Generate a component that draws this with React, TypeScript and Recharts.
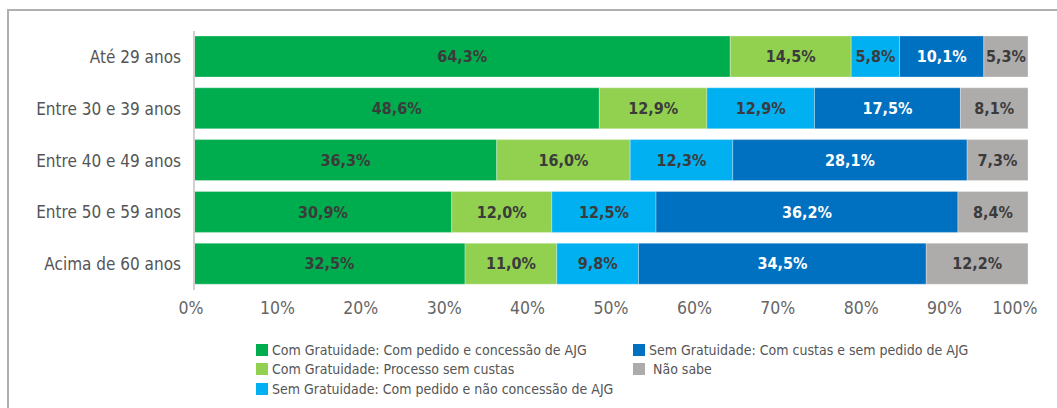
import React from "react";
import { BarChart, Bar, XAxis, YAxis, LabelList } from "recharts";

const categories = ["Até 29 anos", "Entre 30 e 39 anos", "Entre 40 e 49 anos", "Entre 50 e 59 anos", "Acima de 60 anos"];
const comPedidoConcessao = [64.3, 48.6, 36.3, 30.9, 32.5];
const processoSemCustas = [14.5, 12.9, 16.0, 12.0, 11.0];
const pedidoNaoConcessao = [5.8, 12.9, 12.3, 12.5, 9.8];
const comCustasSemPedido = [10.1, 17.5, 28.1, 36.2, 34.5];
const naoSabe = [5.3, 8.1, 7.3, 8.4, 12.2];
const xTicks = [0, 10, 20, 30, 40, 50, 60, 70, 80, 90, 100];

const series = [
  { key: "s1", name: "Com Gratuidade: Com pedido e concessão de AJG", values: comPedidoConcessao, color: "#00AD4E", label: "#3b3b3b" },
  { key: "s2", name: "Com Gratuidade: Processo sem custas", values: processoSemCustas, color: "#92D050", label: "#3b3b3b" },
  { key: "s3", name: "Sem Gratuidade: Com pedido e não concessão de AJG", values: pedidoNaoConcessao, color: "#00B0F0", label: "#3b3b3b" },
  { key: "s4", name: "Sem Gratuidade: Com custas e sem pedido de AJG", values: comCustasSemPedido, color: "#0070C0", label: "#ffffff" },
  { key: "s5", name: " Não sabe", values: naoSabe, color: "#AEABAB", label: "#3b3b3b" },
];

const data = categories.map((c, i) => {
  const row: Record<string, any> = { name: c };
  series.forEach((s) => (row[s.key] = s.values[i]));
  return row;
});

const FONT = "'DejaVu Sans Condensed', 'DejaVu Sans', sans-serif";
const fmt = (v: any) => Number(v).toFixed(1).replace(".", ",") + "%";

const legendOrder = [
  [series[0], series[1], series[2]],
  [series[3], series[4]],
];

const XTick = (props: any) => {
  const { x, y, payload } = props;
  const v = payload.value;
  const dx = v === 100 ? -13 : v === 0 ? -3 : 0;
  return (
    <text x={x + dx} y={y} dy={14} textAnchor="middle" fill="#666" fontSize={17.5} fontFamily={FONT}>
      {v + "%"}
    </text>
  );
};

export default function App() {
  return (
    <div style={{ position: "absolute", left: 0, top: 0, width: 1057, height: 408, background: "#fff", overflow: "hidden", fontFamily: FONT }}>
      <div style={{ position: "absolute", left: 7, top: 9, width: 1200, height: 600, borderTop: "2px solid #b0b0b0", borderLeft: "2px solid #b0b0b0" }} />
      <div style={{ position: "absolute", left: 0, top: 0 }}>
        <BarChart width={1057} height={408} data={data} layout="vertical" margin={{ top: 31, right: 29, bottom: 88, left: 0 }} barSize={41}>
          <XAxis
            type="number"
            domain={[0, 100]}
            ticks={xTicks}
            axisLine={false}
            tickLine={false}
            height={30}
            interval={0}
            tick={<XTick />}
            tickMargin={4}
          />
          <YAxis
            type="category"
            dataKey="name"
            width={194}
            axisLine={{ stroke: "#d0d0d0", strokeWidth: 2 }}
            tickLine={false}
            tickMargin={7}
            tick={{ fill: "#555", fontSize: 17, fontFamily: FONT }}
          />
          {series.map((s) => (
            <Bar key={s.key} dataKey={s.key} stackId="a" fill={s.color} stroke="#ffffff" strokeOpacity={0.5} strokeWidth={0.6} isAnimationActive={false}>
              <LabelList dataKey={s.key} position="center" formatter={fmt} fill={s.label} style={{ fontSize: 16, fontWeight: "bold", fontFamily: FONT }} />
            </Bar>
          ))}
        </BarChart>
      </div>
      {legendOrder.map((col, ci) => (
        <div key={ci} style={{ position: "absolute", left: ci === 0 ? 256 : 633, top: 340 }}>
          {col.map((s) => (
            <div key={s.key} style={{ display: "flex", alignItems: "center", height: 19.5, whiteSpace: "pre" }}>
              <div style={{ width: 12, height: 12, background: s.color, marginRight: 4 }} />
              <span style={{ fontSize: 14, color: "#555" }}>{s.name}</span>
            </div>
          ))}
        </div>
      ))}
    </div>
  );
}
